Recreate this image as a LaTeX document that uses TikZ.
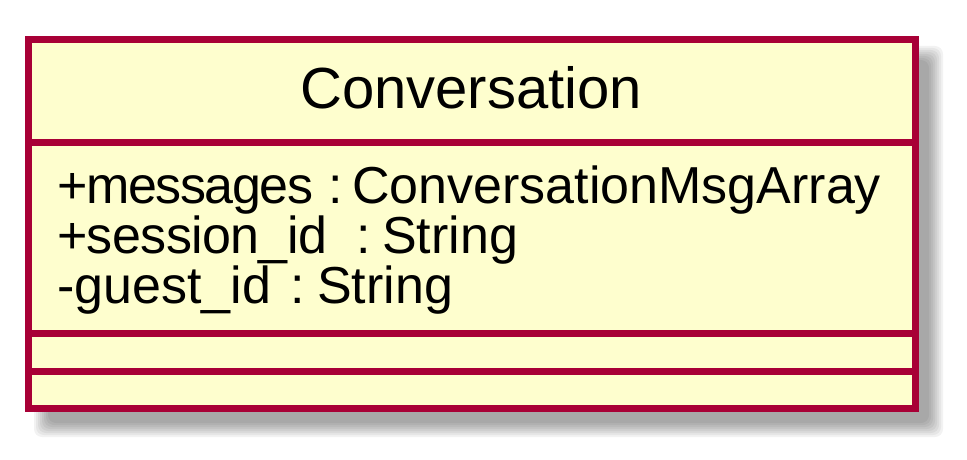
\documentclass[tikz,border=0pt]{standalone}
\usepackage{fontspec}
\setmainfont{Liberation Sans}
\definecolor{umlborder}{HTML}{A80036}
\definecolor{umlfill}{HTML}{FEFECE}
\begin{document}
\begin{tikzpicture}[x=1pt,y=-1pt,
  border/.style={draw=umlborder,line width=7pt},
  titletext/.style={font=\fontsize{58}{70}\selectfont,inner sep=0pt,anchor=base},
  attrtext/.style={font=\fontsize{52}{62}\selectfont,inner sep=0pt,anchor=base west}]
\useasboundingbox (0,0) rectangle (967,460);
% shadow
\foreach \d in {10,8,6,4,2,0,-2,-4}{
  \fill[black,opacity=0.05,rounded corners=8pt] (28+16-\d,40+16-\d) rectangle (915+18+\d,408+19+\d);
}
% box
\fill[umlfill] (28.5,39.5) rectangle (915.5,408.5);
\draw[border] (28.5,142.5) -- (915.5,142.5);
\draw[border] (28.5,333.5) -- (915.5,333.5);
\draw[border] (28.5,371.5) -- (915.5,371.5);
\draw[border] (28.5,39.5) rectangle (915.5,408.5);
\node[titletext] (title) at (471,109) {Conversation};
% attributes
\node[attrtext] (n1) at (57,203) {\addfontfeature{LetterSpace=-2.7}+messages};
\node[attrtext] (c1) at (328,203) {:};
\node[attrtext] (t1) at (352,203) {ConversationMsgArray};
\node[attrtext] (n2) at (57,253) {\addfontfeature{LetterSpace=-1.2}+session\_id};
\node[attrtext] (c2) at (356,253) {:};
\node[attrtext] (t2) at (382,253) {String};
\node[attrtext] (n3) at (57,303) {-guest\_id};
\node[attrtext] (c3) at (290,303) {:};
\node[attrtext] (t3) at (317,303) {String};
\end{tikzpicture}
\end{document}
